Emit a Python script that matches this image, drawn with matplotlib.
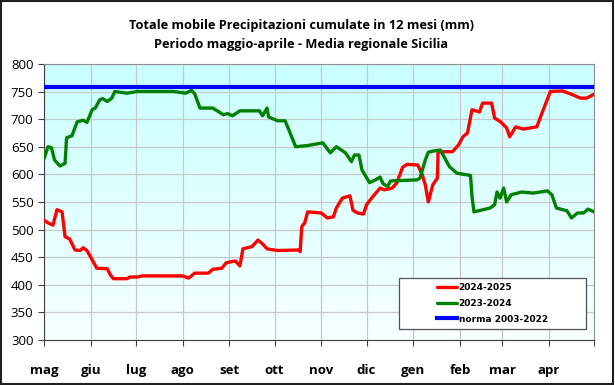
import matplotlib.pyplot as plt
import numpy as np
from matplotlib.patches import Rectangle
from matplotlib.colors import LinearSegmentedColormap

# giorni dal 1 maggio
months = ['mag', 'giu', 'lug', 'ago', 'set', 'ott', 'nov', 'dic', 'gen', 'feb', 'mar', 'apr']
month_start = [0, 31, 61, 92, 123, 153, 184, 214, 245, 276, 304, 335, 365]

day_2425 = [0, 2.7, 6, 8.6, 12, 14, 17, 20.6, 24, 26, 28.5, 32, 35, 42, 44, 46, 55, 57, 62, 65,
            92, 96, 100, 109, 112, 118, 121, 127, 130, 132, 138, 142, 145, 148, 155, 169, 170,
            171, 173, 175, 184, 188, 192, 194, 198, 203, 205, 208, 212, 214, 218, 223, 226, 231,
            234, 238, 241, 248, 251, 253, 255, 258, 261, 261.5, 271, 275, 278, 281, 284, 289,
            291, 297, 299, 303, 307, 309, 313, 318, 327, 330, 336, 344, 350, 356, 360, 365]
mm_2425 = [517, 512, 508, 536, 532, 487, 483, 463, 462, 467, 462, 445, 430, 429, 418, 411, 411, 414, 414, 416,
           416, 412, 421, 421, 428, 430, 440, 443, 434, 465, 469, 481, 474, 465, 462, 463, 460,
           505, 512, 532, 530, 521, 523, 539, 557, 561, 535, 530, 528, 545, 559, 575, 572, 575,
           584, 613, 618, 617, 599, 581, 550, 581, 593, 641, 641, 653, 668, 675, 717, 713,
           729, 729, 702, 695, 684, 668, 686, 682, 686, 708, 750, 751, 745, 738, 738, 745]

day_2324 = [0, 2.7, 5, 7, 10.6, 14, 15, 18.6, 22, 26, 28.5, 32, 34, 37, 39, 42, 45, 47, 55, 62,
            86, 94, 98, 100, 103.5, 112, 119, 122, 125, 130, 143, 145, 148, 149, 155, 160, 163,
            167, 174.5, 185, 190, 194, 200, 204, 206, 209, 211, 216, 220, 223, 225, 228, 230,
            247.5, 249.5, 253, 255, 258, 263, 269, 274, 283, 284, 285.3, 296, 299, 300.6, 302.6,
            305, 307, 310, 317, 324.5, 334, 337, 340, 347, 350, 354, 358, 361, 365]
mm_2324 = [628, 650, 648, 626, 615, 620, 666, 670, 695, 698, 694, 717, 720, 735, 737, 732, 738, 750, 747, 750,
           750, 747, 752, 746, 720, 720, 708, 710, 706, 715, 715, 706, 720, 704, 697, 697, 677,
           650, 652, 657, 639, 650, 639, 623, 635, 635, 608, 585, 590, 595, 583, 578, 588,
           590, 593, 626, 640, 642, 644, 614, 602, 598, 560, 532, 539, 545, 568, 557,
           575, 550, 563, 568, 566, 570, 563, 539, 534, 521, 530, 530, 537, 532]

norma = 759

fig = plt.figure(figsize=(6.15, 3.85), dpi=100)
ax = fig.add_axes([0.0715, 0.117, 0.8945, 0.717])

# sfondo sfumato
grad = np.linspace(0, 1, 256).reshape(-1, 1)
cmap = LinearSegmentedColormap.from_list('bg', ['#f7ffff', '#c8ffff'])
ax.imshow(grad, extent=[0, 365, 300, 800], origin='lower', aspect='auto', cmap=cmap, zorder=0)

ax.plot(day_2425, mm_2425, color='#ff0000', lw=2.4, label='2024-2025', zorder=3,
        solid_joinstyle='round', solid_capstyle='round')
ax.plot(day_2324, mm_2324, color='#008000', lw=2.4, label='2023-2024', zorder=3,
        solid_joinstyle='round', solid_capstyle='round')
ax.plot([0, 365], [norma, norma], color='#0000ff', lw=3, label='norma 2003-2022', zorder=3)

ax.set_xlim(0, 365)
ax.set_ylim(300, 800)
ax.set_yticks(range(300, 801, 50))
ax.set_xticks(month_start)
ax.set_xticklabels(months + [''], fontweight='bold', fontsize=9.5, family='Open Sans')
for t in ax.get_yticklabels():
    t.set_family('Open Sans')
    t.set_fontsize(9.5)
ax.tick_params(axis='both', direction='out', length=4, color='#404040')
ax.tick_params(axis='x', pad=13)
ax.grid(True, color='#c8c8c8', lw=0.9, zorder=1)
ax.set_axisbelow(True)
for s in ['top', 'right']:
    ax.spines[s].set_color('#909090')
for s in ['left', 'bottom']:
    ax.spines[s].set_color('#404040')

fig.suptitle('Totale mobile Precipitazioni cumulate in 12 mesi (mm)\nPeriodo maggio-aprile - Media regionale Sicilia',
             x=0.49, y=0.95, fontsize=9.2, fontweight='bold', family='Open Sans', linespacing=1.55)

# legenda
box = (0.645, 0.04, 0.34, 0.185)
ax.add_patch(Rectangle((box[0], box[1]), box[2], box[3], transform=ax.transAxes,
                       facecolor='white', edgecolor='#505050', lw=0.9, zorder=4))
leg = ax.legend(loc='center', bbox_to_anchor=box, frameon=False,
                handlelength=2.2, handletextpad=0.2, labelspacing=0.75,
                prop={'weight': 'bold', 'size': 6.5})
leg.set_zorder(5)

fig.add_artist(Rectangle((0.002, 0.003), 0.995, 0.994, transform=fig.transFigure,
                         fill=False, edgecolor='#202020', lw=1.5))

fig.savefig('out.png', dpi=100)
